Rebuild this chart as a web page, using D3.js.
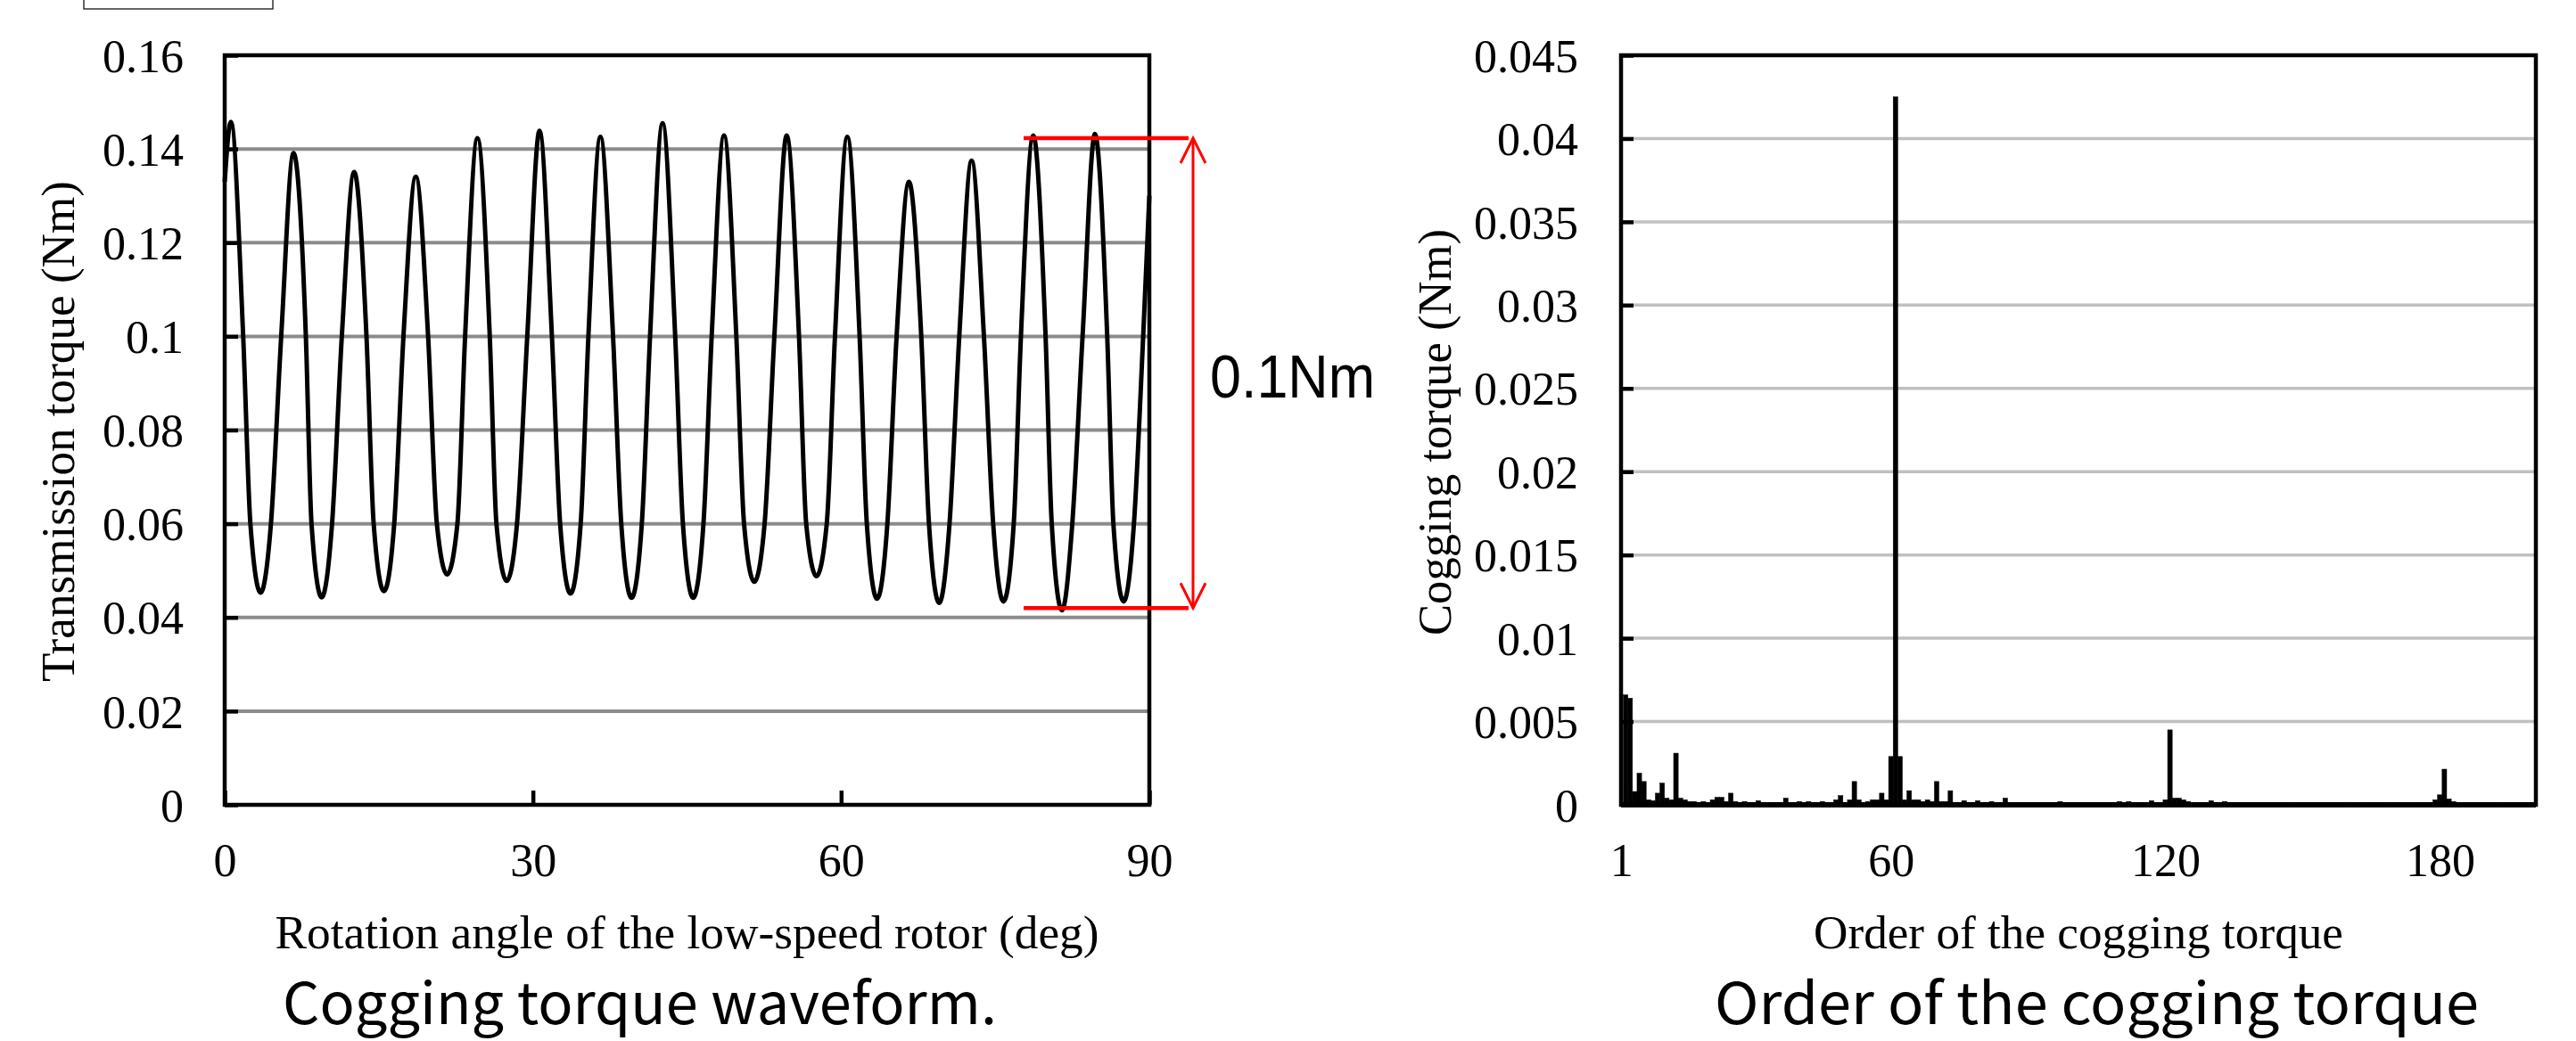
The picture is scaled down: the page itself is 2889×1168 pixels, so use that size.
<!DOCTYPE html>
<html>
<head>
<meta charset="utf-8">
<script src="https://cdn.jsdelivr.net/npm/d3@7"></script>
<style>
  body { margin: 0; background: #fff; }
  svg { display: block; background: #fff; }
  .serif { font-family: 'Liberation Serif', 'Times New Roman', serif; fill: #000; }
  .caption { font-family: 'Noto Sans CJK JP', 'Noto Sans', sans-serif; fill: #000; }
  .note { font-family: 'Liberation Sans', Arial, sans-serif; fill: #000; }
</style>
</head>
<body>
<svg id="figure" width="2889" height="1168"></svg>
<script>
// Cogging torque waveform (peaks, troughs and side crossings)
const waveAngle = [
  0, 0.6, 1.8, 2.5, 3.5, 4.5, 5.5, 6.7, 7.9, 8.45,
  9.44, 10.45, 11.4, 12.6, 13.8, 14.5, 15.5, 16.5, 17.4, 18.6,
  19.8, 20.65, 21.65, 22.65, 23.4, 24.6, 25.8, 26.45, 27.45, 28.45,
  29.45, 30.64, 31.85, 32.65, 33.66, 34.65, 35.4, 36.57, 37.8, 38.6,
  39.6, 40.6, 41.4, 42.62, 43.85, 44.6, 45.6, 46.6, 47.4, 48.6,
  49.8, 50.55, 51.55, 52.55, 53.5, 54.7, 55.9, 56.6, 57.6, 58.6,
  59.4, 60.6, 61.8, 62.5, 63.5, 64.5, 65.4, 66.6, 67.8, 68.55,
  69.55, 70.55, 71.5, 72.7, 73.9, 74.8, 75.8, 76.8, 77.5, 78.7,
  79.9, 80.5, 81.5, 82.5, 83.5, 84.7, 85.9, 86.5, 87.5, 88.5,
  89.4, 90
];
const waveTorque = [
  0.133, 0.1458, 0.100, 0.060, 0.0453, 0.060, 0.100, 0.1391, 0.100, 0.060,
  0.0443, 0.060, 0.100, 0.1351, 0.100, 0.060, 0.0456, 0.060, 0.100, 0.1341,
  0.100, 0.060, 0.0492, 0.060, 0.100, 0.1423, 0.100, 0.060, 0.0478, 0.060,
  0.100, 0.1439, 0.100, 0.060, 0.0451, 0.060, 0.100, 0.1426, 0.100, 0.060,
  0.0442, 0.060, 0.100, 0.1455, 0.100, 0.060, 0.0442, 0.060, 0.100, 0.1429,
  0.100, 0.060, 0.0476, 0.060, 0.100, 0.1429, 0.100, 0.060, 0.0488, 0.060,
  0.100, 0.1426, 0.100, 0.060, 0.0440, 0.060, 0.100, 0.1330, 0.100, 0.060,
  0.0431, 0.060, 0.100, 0.1375, 0.100, 0.060, 0.0434, 0.060, 0.100, 0.1429,
  0.100, 0.060, 0.0415, 0.060, 0.100, 0.1432, 0.100, 0.060, 0.0434, 0.060,
  0.100, 0.130
];
const waveXTicks = [0, 30, 60, 90];
const waveYTicks = [0, 0.02, 0.04, 0.06, 0.08, 0.1, 0.12, 0.14, 0.16];
const rippleMax = 0.1423;
const rippleMin = 0.042;
const rippleLabel = '0.1Nm';

// Order spectrum of the cogging torque (orders 1..199)
const spectrumOrders = d3.range(1, 200);
const spectrumTorque = [
  0.0066, 0.0064, 0.0008, 0.0019, 0.0014, 0.0003, 0.00025, 0.0007, 0.0013, 0.0004,
  0.0003, 0.0031, 0.0004, 0.0003, 0.0002, 0.0002, 0.00015, 0.0002, 0.00015, 0.0003,
  0.00045, 0.00045, 0.0002, 0.0007, 0.0002, 0.00015, 0.0002, 0.00015, 0.00015, 0.00025,
  0.0001, 0.0001, 0.0001, 0.0001, 0.00015, 0.0004, 0.0001, 0.0001, 0.0002, 0.0001,
  0.0002, 0.0001, 0.0001, 0.0002, 0.0001, 0.0001, 0.0003, 0.00055, 0.0001, 0.0003,
  0.0014, 0.0003, 0.0001, 0.0002, 0.0003, 0.0003, 0.0007, 0.0003, 0.0029, 0.0425,
  0.0029, 0.0003, 0.00085, 0.0003, 0.0003, 0.0002, 0.0003, 0.0002, 0.0014, 0.0002,
  0.0002, 0.00085, 0.00015, 0.00015, 0.00025, 0.0001, 0.00015, 0.00025, 0.0001, 0.0001,
  0.0002, 0.0001, 0.0001, 0.0004, 0.0001, 0.0001, 0.0001, 0.0001, 0.0001, 0.0001,
  0.0001, 0.0001, 0.0001, 0.0001, 0.0001, 0.0002, 0.0001, 0.0001, 0.0001, 0.0001,
  0.0001, 0.00005, 0.0001, 0.0001, 0.0001, 0.0001, 0.0001, 0.0001, 0.0002, 0.0001,
  0.0002, 0.0001, 0.0001, 0.0001, 0.0001, 0.00025, 0.0001, 0.0001, 0.0003, 0.0045,
  0.0004, 0.0004, 0.0003, 0.0002, 0.0001, 0.0001, 0.0001, 0.0001, 0.00025, 0.0001,
  0.0001, 0.0002, 0.0001, 0.0001, 0.0001, 0.0001, 0.0001, 0.00005, 0.0001, 0.0001,
  0.0001, 0.0001, 0.0001, 0.0001, 0.0001, 0.0001, 0.00015, 0.0001, 0.0001, 0.0001,
  0.0001, 0.0001, 0.0001, 0.0001, 0.0001, 0.0001, 0.0001, 0.0001, 0.00015, 0.00015,
  0.0001, 0.00015, 0.0001, 0.0001, 0.0001, 0.0001, 0.0001, 0.00015, 0.0001, 0.00015,
  0.0001, 0.00015, 0.0001, 0.0001, 0.0001, 0.0001, 0.0001, 0.0003, 0.0006, 0.00214,
  0.00035, 0.0002, 0.0001, 0.0001, 0.0001, 0.0001, 0.0001, 0.0001, 0.0001, 0.0001,
  0.0001, 0.00015, 0.0001, 0.0001, 0.0001, 0.0001, 0.0001, 0.0001, 0.0001
];
const spectrumXTicks = [1, 60, 120, 180];
const spectrumYTicks = [0, 0.005, 0.01, 0.015, 0.02, 0.025, 0.03, 0.035, 0.04, 0.045];

const svg = d3.select('#figure');

// small empty box cut off at the top left
svg.append('rect')
  .attr('x', 94).attr('y', -6).attr('width', 212).attr('height', 16)
  .attr('fill', 'none').attr('stroke', '#333').attr('stroke-width', 1.5);

// styles shared by both panels' axes
function styleYAxis(g) {
  g.select('.domain').remove();
  g.selectAll('.tick line').attr('stroke', '#000').attr('stroke-width', 4.5);
  g.selectAll('.tick text')
    .attr('class', 'serif')
    .attr('font-size', 52)
    .attr('dy', '0.35em');
}
function styleXAxis(g) {
  g.select('.domain').remove();
  g.selectAll('.tick line').attr('stroke', '#000').attr('stroke-width', 4.5);
  g.selectAll('.tick text')
    .attr('class', 'serif')
    .attr('font-size', 52)
    .attr('y', 80)
    .attr('dy', null);
}

/* ---------- left panel: cogging torque waveform ---------- */
const wave = { left: 252, top: 62, width: 1037, height: 841 };
const gW = svg.append('g').attr('transform', `translate(${wave.left},${wave.top})`);

const xW = d3.scaleLinear().domain([0, 90]).range([0, wave.width]);
const yW = d3.scaleLinear().domain([0, 0.16]).range([wave.height, 0]);

// horizontal gridlines
gW.selectAll('.grid')
  .data(waveYTicks.filter((d) => d > 0 && d < 0.16))
  .join('line')
  .attr('class', 'grid')
  .attr('x1', 0).attr('x2', wave.width)
  .attr('y1', (d) => yW(d)).attr('y2', (d) => yW(d))
  .attr('stroke', '#8c8c8c').attr('stroke-width', 4);

const wavePoints = waveAngle.map((a, i) => [a, waveTorque[i]]);
gW.append('path')
  .datum(wavePoints)
  .attr('fill', 'none')
  .attr('stroke', '#000')
  .attr('stroke-width', 5)
  .attr('stroke-linejoin', 'round')
  .attr('d', d3.line().x((d) => xW(d[0])).y((d) => yW(d[1])).curve(d3.curveMonotoneX));

gW.append('g')
  .call(d3.axisLeft(yW).tickValues(waveYTicks).tickSize(-15).tickPadding(46).tickFormat((d) => String(d)))
  .call(styleYAxis);

gW.append('g')
  .attr('transform', `translate(0,${wave.height})`)
  .call(d3.axisBottom(xW).tickValues(waveXTicks).tickSize(-16).tickFormat((d) => String(d)))
  .call(styleXAxis);

gW.append('rect')
  .attr('width', wave.width).attr('height', wave.height)
  .attr('fill', 'none').attr('stroke', '#000').attr('stroke-width', 4.5);

gW.append('text')
  .attr('class', 'serif')
  .attr('font-size', 53)
  .attr('text-anchor', 'middle')
  .attr('x', wave.width / 2)
  .attr('y', 1064 - wave.top)
  .attr('textLength', 924).attr('lengthAdjust', 'spacingAndGlyphs')
  .text('Rotation angle of the low-speed rotor (deg)');

gW.append('text')
  .attr('class', 'serif')
  .attr('font-size', 53)
  .attr('text-anchor', 'middle')
  .attr('transform', `translate(${83 - wave.left},${484 - wave.top}) rotate(-90)`)
  .attr('textLength', 562).attr('lengthAdjust', 'spacingAndGlyphs')
  .text('Transmission torque (Nm)');

// red peak-to-peak annotation
const ann = gW.append('g').attr('stroke', '#ff0000').attr('fill', 'none');
const arrowX = wave.width + 49;
[rippleMax, rippleMin].forEach((v) => {
  ann.append('line')
    .attr('x1', wave.width - 141).attr('x2', wave.width + 44)
    .attr('y1', yW(v)).attr('y2', yW(v))
    .attr('stroke-width', 4.5);
});
ann.append('line')
  .attr('x1', arrowX).attr('x2', arrowX)
  .attr('y1', yW(rippleMax)).attr('y2', yW(rippleMin))
  .attr('stroke-width', 3);
ann.append('path')
  .attr('stroke-width', 3)
  .attr('d', `M${arrowX - 14},${yW(rippleMax) + 28}L${arrowX},${yW(rippleMax)}L${arrowX + 14},${yW(rippleMax) + 28}`);
ann.append('path')
  .attr('stroke-width', 3)
  .attr('d', `M${arrowX - 14},${yW(rippleMin) - 28}L${arrowX},${yW(rippleMin)}L${arrowX + 14},${yW(rippleMin) - 28}`);

gW.append('text')
  .attr('class', 'note')
  .attr('font-size', 68)
  .attr('x', 1357 - wave.left)
  .attr('y', 446 - wave.top)
  .attr('textLength', 185).attr('lengthAdjust', 'spacingAndGlyphs')
  .text(rippleLabel);

svg.append('text')
  .attr('class', 'caption')
  .attr('font-size', 64)
  .attr('x', 317).attr('y', 1149)
  .attr('textLength', 801).attr('lengthAdjust', 'spacingAndGlyphs')
  .text('Cogging torque waveform.');

/* ---------- right panel: order of the cogging torque ---------- */
const spec = { left: 1818, top: 62, width: 1026, height: 841 };
const gS = svg.append('g').attr('transform', `translate(${spec.left},${spec.top})`);

const xS = d3.scaleLinear().domain([0, 200]).range([0, spec.width]);
const yS = d3.scaleLinear().domain([0, 0.045]).range([spec.height, 0]);
const barW = xS(1) - xS(0);

gS.selectAll('.grid')
  .data(spectrumYTicks.filter((d) => d > 0 && d < 0.045))
  .join('line')
  .attr('class', 'grid')
  .attr('x1', 0).attr('x2', spec.width)
  .attr('y1', (d) => yS(d)).attr('y2', (d) => yS(d))
  .attr('stroke', '#c0c0c0').attr('stroke-width', 3.5);

gS.selectAll('.bar')
  .data(spectrumOrders.map((o, i) => ({ order: o, value: spectrumTorque[i] })))
  .join('rect')
  .attr('class', 'bar')
  .attr('x', (d) => xS(d.order) - barW / 2)
  .attr('width', barW)
  .attr('y', (d) => yS(d.value))
  .attr('height', (d) => yS(0) - yS(d.value))
  .attr('fill', '#000')
  .attr('stroke', '#000')
  .attr('stroke-width', 0.5);

gS.append('g')
  .call(d3.axisLeft(yS).tickValues(spectrumYTicks).tickSize(-14).tickPadding(48).tickFormat((d) => String(d)))
  .call(styleYAxis);

gS.append('g')
  .attr('transform', `translate(0,${spec.height})`)
  .call(d3.axisBottom(xS).tickValues(spectrumXTicks).tickSize(0).tickFormat((d) => String(d)))
  .call(styleXAxis)
  .call((g) => g.selectAll('.tick text').attr('dx', -5));

gS.append('rect')
  .attr('width', spec.width).attr('height', spec.height)
  .attr('fill', 'none').attr('stroke', '#000').attr('stroke-width', 4.5);
gS.append('line')
  .attr('x1', 0).attr('x2', spec.width)
  .attr('y1', spec.height).attr('y2', spec.height)
  .attr('stroke', '#000').attr('stroke-width', 6);

gS.append('text')
  .attr('class', 'serif')
  .attr('font-size', 53)
  .attr('text-anchor', 'middle')
  .attr('x', spec.width / 2)
  .attr('y', 1064 - spec.top)
  .attr('textLength', 594).attr('lengthAdjust', 'spacingAndGlyphs')
  .text('Order of the cogging torque');

gS.append('text')
  .attr('class', 'serif')
  .attr('font-size', 53)
  .attr('text-anchor', 'middle')
  .attr('transform', `translate(${1627 - spec.left},${485 - spec.top}) rotate(-90)`)
  .attr('textLength', 456).attr('lengthAdjust', 'spacingAndGlyphs')
  .text('Cogging torque (Nm)');

svg.append('text')
  .attr('class', 'caption')
  .attr('font-size', 64)
  .attr('x', 1923).attr('y', 1149)
  .attr('textLength', 857).attr('lengthAdjust', 'spacingAndGlyphs')
  .text('Order of the cogging torque');
</script>
</body>
</html>
